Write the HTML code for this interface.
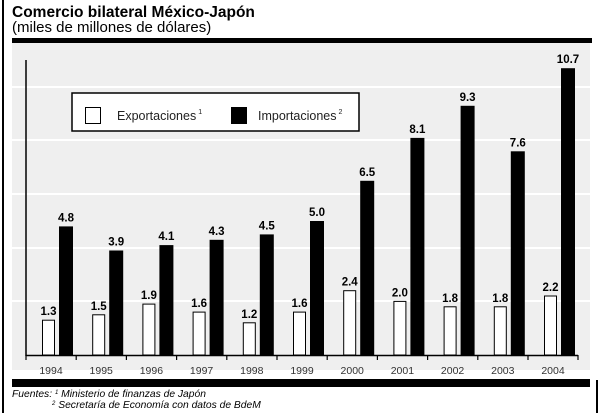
<!DOCTYPE html>
<html><head><meta charset="utf-8"><style>
body{margin:0;background:#fff;}
svg{display:block;font-family:"Liberation Sans",Arial,sans-serif;}
</style></head><body>
<svg width="600" height="413" viewBox="0 0 600 413">
<rect x="2" y="0" width="2" height="413" fill="#000"/>
<rect x="596" y="380" width="2" height="33" fill="#000"/>
<text x="12" y="17" font-size="15.5" font-weight="bold">Comercio bilateral México-Japón</text>
<text x="12" y="32" font-size="15">(miles de millones de dólares)</text>
<rect x="12" y="38" width="580" height="5" fill="#000"/>
<rect x="12" y="43" width="578" height="327" fill="#efefef"/>
<g stroke="#fff" stroke-width="2">
<line x1="12" x2="590" y1="87" y2="87"/><line x1="12" x2="590" y1="140" y2="140"/>
<line x1="12" x2="590" y1="194" y2="194"/><line x1="12" x2="590" y1="248" y2="248"/>
<line x1="12" x2="590" y1="301" y2="301"/>
</g>
<rect x="72" y="93" width="287" height="38" fill="#fff" stroke="#000" stroke-width="1.5"/>
<rect x="85.5" y="107.5" width="15" height="16" fill="#fff" stroke="#000"/>
<text x="117" y="120" font-size="12.5" fill="#222">Exportaciones<tspan font-size="7" dy="-6" dx="2">1</tspan></text>
<rect x="231" y="107" width="16" height="17" fill="#000"/>
<text x="258" y="120" font-size="12.5" fill="#222">Importaciones<tspan font-size="7" dy="-6" dx="2">2</tspan></text>
<line x1="26" y1="60" x2="26" y2="356" stroke="#000" stroke-width="1.5"/>
<line x1="26" y1="355.5" x2="578" y2="355.5" stroke="#000" stroke-width="1.5"/>
<g stroke="#000">
<rect x="42.5" y="320.2" width="12" height="34.8" fill="#fff"/>
<rect x="92.7" y="314.8" width="12" height="40.2" fill="#fff"/>
<rect x="142.9" y="304.1" width="12" height="50.9" fill="#fff"/>
<rect x="193.1" y="312.1" width="12" height="42.9" fill="#fff"/>
<rect x="243.3" y="322.8" width="12" height="32.2" fill="#fff"/>
<rect x="293.5" y="312.1" width="12" height="42.9" fill="#fff"/>
<rect x="343.7" y="290.7" width="12" height="64.3" fill="#fff"/>
<rect x="393.9" y="301.4" width="12" height="53.6" fill="#fff"/>
<rect x="444.1" y="306.8" width="12" height="48.2" fill="#fff"/>
<rect x="494.3" y="306.8" width="12" height="48.2" fill="#fff"/>
<rect x="544.5" y="296" width="12" height="59" fill="#fff"/>
</g>
<g fill="#000">
<rect x="59" y="226.4" width="14" height="128.6"/>
<rect x="109.2" y="250.5" width="14" height="104.5"/>
<rect x="159.4" y="245.1" width="14" height="109.9"/>
<rect x="209.6" y="239.8" width="14" height="115.2"/>
<rect x="259.8" y="234.4" width="14" height="120.6"/>
<rect x="310" y="221" width="14" height="134"/>
<rect x="360.2" y="180.8" width="14" height="174.2"/>
<rect x="410.4" y="137.9" width="14" height="217.1"/>
<rect x="460.6" y="105.8" width="14" height="249.2"/>
<rect x="510.8" y="151.3" width="14" height="203.7"/>
<rect x="561" y="68.2" width="14" height="286.8"/>
</g>
<g font-size="11.5" font-weight="bold" text-anchor="middle">
<text x="48.5" y="315.2">1.3</text><text x="66" y="221.4">4.8</text>
<text x="98.7" y="309.8">1.5</text><text x="116.2" y="245.5">3.9</text>
<text x="148.9" y="299.1">1.9</text><text x="166.4" y="240.1">4.1</text>
<text x="199.1" y="307.1">1.6</text><text x="216.6" y="234.8">4.3</text>
<text x="249.3" y="317.8">1.2</text><text x="266.8" y="229.4">4.5</text>
<text x="299.5" y="307.1">1.6</text><text x="317" y="216">5.0</text>
<text x="349.7" y="285.7">2.4</text><text x="367.2" y="175.8">6.5</text>
<text x="399.9" y="296.4">2.0</text><text x="417.4" y="132.9">8.1</text>
<text x="450.1" y="301.8">1.8</text><text x="467.6" y="100.8">9.3</text>
<text x="500.3" y="301.8">1.8</text><text x="517.8" y="146.3">7.6</text>
<text x="550.5" y="291">2.2</text><text x="568" y="63.2">10.7</text>
</g>
<g stroke="#000" stroke-width="1.2">
<line x1="26" x2="26" y1="355" y2="360"/><line x1="76.2" x2="76.2" y1="355" y2="360"/>
<line x1="126.4" x2="126.4" y1="355" y2="360"/><line x1="176.6" x2="176.6" y1="355" y2="360"/>
<line x1="226.8" x2="226.8" y1="355" y2="360"/><line x1="277" x2="277" y1="355" y2="360"/>
<line x1="327.2" x2="327.2" y1="355" y2="360"/><line x1="377.4" x2="377.4" y1="355" y2="360"/>
<line x1="427.6" x2="427.6" y1="355" y2="360"/><line x1="477.8" x2="477.8" y1="355" y2="360"/>
<line x1="528" x2="528" y1="355" y2="360"/><line x1="578" x2="578" y1="355" y2="360"/>
</g>
<g font-size="10.5" text-anchor="middle" fill="#333">
<text x="51" y="374">1994</text><text x="101.2" y="374">1995</text><text x="151.4" y="374">1996</text>
<text x="201.6" y="374">1997</text><text x="251.8" y="374">1998</text><text x="302" y="374">1999</text>
<text x="352.2" y="374">2000</text><text x="402.4" y="374">2001</text><text x="452.6" y="374">2002</text>
<text x="502.8" y="374">2003</text><text x="553" y="374">2004</text>
</g>
<rect x="12" y="379" width="578" height="8" fill="#000"/>
<text x="12" y="397" font-size="10.3" font-style="italic">Fuentes: <tspan font-size="6" dy="-3">1</tspan><tspan dy="3"> Ministerio de finanzas de Japón</tspan></text>
<text x="52" y="408" font-size="10.3" font-style="italic"><tspan font-size="6" dy="-3">2</tspan><tspan dy="3"> Secretaría de Economía con datos de BdeM</tspan></text>
</svg>
</body></html>
